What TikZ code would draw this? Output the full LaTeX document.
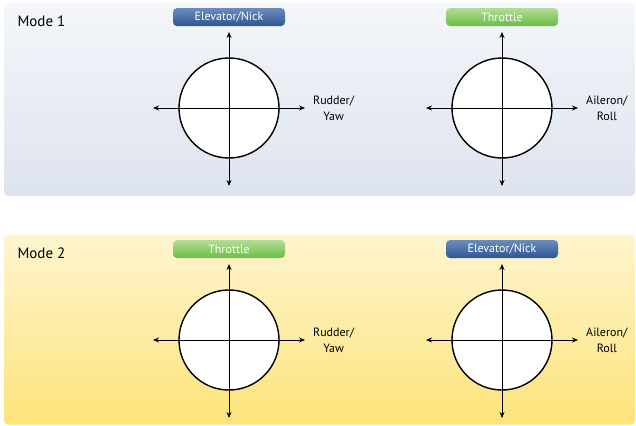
\documentclass[tikz,border=0pt]{standalone}
\usepackage{fontspec}
\setmainfont{PT Sans}
\usepackage{tikz}
\usetikzlibrary{
  arrows.meta,
  positioning
}
\definecolor{paneltop}{RGB}{244,246,250}
\definecolor{panelbot}{RGB}{221,227,238}
\definecolor{yellowtop}{RGB}{254,245,207}
\definecolor{yellowbot}{RGB}{253,227,122}
\definecolor{elevtop}{RGB}{108,140,188}
\definecolor{elevbot}{RGB}{45,85,147}
\definecolor{throttop}{RGB}{178,221,150}
\definecolor{throtbot}{RGB}{106,190,66}
\tikzset{
  panel/.style={rounded corners=4pt, inner sep=0pt,
    minimum width=631pt},
  stick/.style={draw, circle, line width=1.4pt, fill=white,
    minimum size=100pt, inner sep=0pt},
  tagbox/.style={rounded corners=4pt, inner sep=0pt,
    minimum width=112pt, minimum height=18pt,
    text=white, font=\fontsize{12}{14}\selectfont},
  elevbox/.style={tagbox, top color=elevtop, bottom color=elevbot},
  throtbox/.style={tagbox, top color=throttop, bottom color=throtbot},
  modelabel/.style={font=\fontsize{15}{17}\selectfont, anchor=west},
  axislabel/.style={align=center, font=\fontsize{12}{16}\selectfont},
  axis/.style={{Stealth[length=6pt,width=5pt]}-{Stealth[length=6pt,width=5pt]}, line width=0.9pt},
}

\begin{document}
\begin{tikzpicture}[x=1pt, y=-1pt]
  \useasboundingbox (0,0) rectangle (636,425);

  % Panels
  \node[panel, minimum height=193pt, top color=paneltop, bottom color=panelbot]
    (mode1) at (319.5,99.5) {};
  \node[panel, minimum height=190pt, top color=yellowtop, bottom color=yellowbot]
    (mode2) at (319.5,329.5) {};
  \node[modelabel] (m1txt) at (14,21) {Mode 1};
  \node[modelabel] (m2txt) at (14,253) {Mode 2};

  % Sticks
  \node[stick] (lc1) at (229,108) {};
  \node[stick] (rc1) at (502,108) {};
  \node[stick] (lc2) at (229,340) {};
  \node[stick] (rc2) at (502,340) {};

  % Axes
  \foreach \s in {lc1,rc1,lc2,rc2} {
    \draw[axis] ([xshift=-76pt]\s.center) -- ([xshift=76pt]\s.center);
    \draw[axis] ([yshift=76pt]\s.center) -- ([yshift=-78pt]\s.center);
  }

  % Function tags
  \node[elevbox, above=31pt of lc1] (t1) {Elevator/Nick};
  \node[throtbox, above=31pt of rc1] (t2) {Throttle};
  \node[throtbox, above=31pt of lc2] (t3) {Throttle};
  \node[elevbox, above=31pt of rc2] (t4) {Elevator/Nick};

  % Side labels
  \node[axislabel, right=30pt of lc1] (s1) {Rudder/\\Yaw};
  \node[axislabel, right=30pt of rc1] (s2) {Aileron/\\Roll};
  \node[axislabel, right=30pt of lc2] (s3) {Rudder/\\Yaw};
  \node[axislabel, right=30pt of rc2] (s4) {Aileron/\\Roll};
\end{tikzpicture}
\end{document}
